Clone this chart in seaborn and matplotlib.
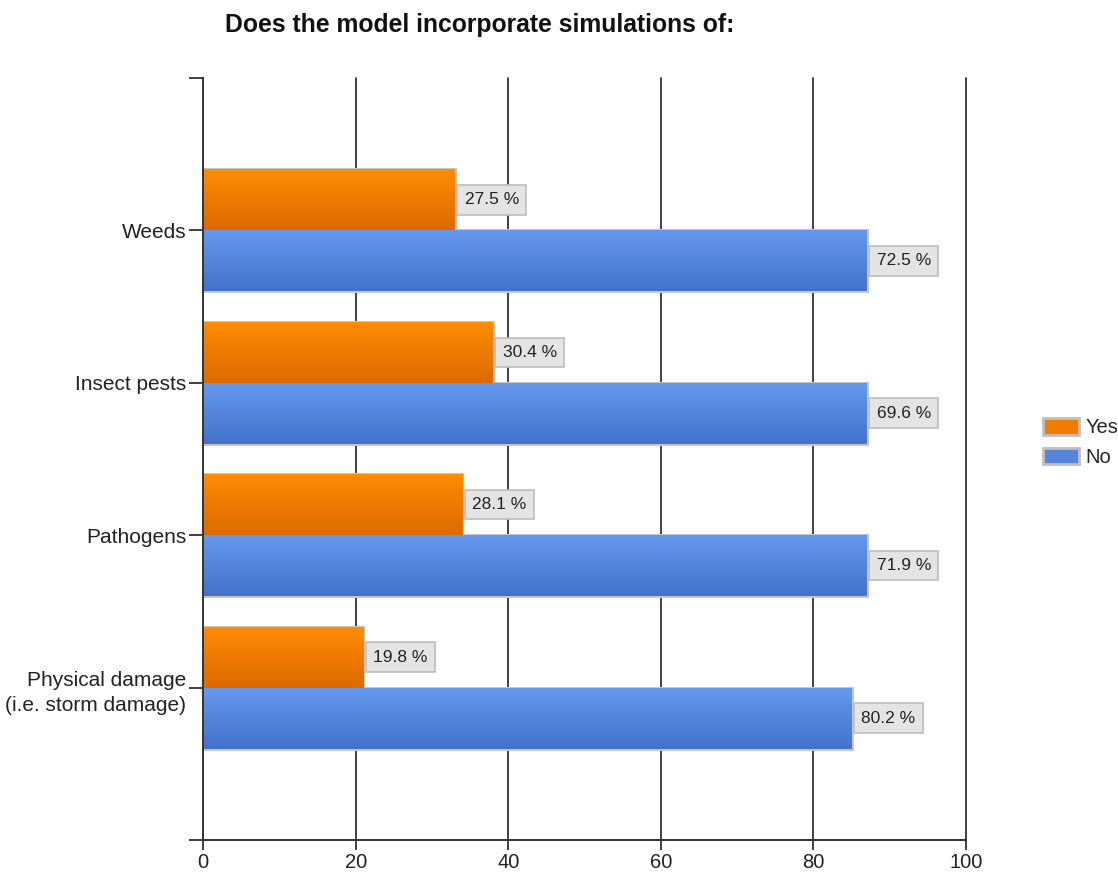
import numpy as np
import pandas as pd
import matplotlib
matplotlib.use("Agg")
import matplotlib.pyplot as plt
import matplotlib.colors as mcolors
from matplotlib.patches import Patch
import seaborn as sns

# Survey responses (counts) per hazard type
hazards = ["Weeds", "Insect pests", "Pathogens", "Physical damage\n(i.e. storm damage)"]
yes_counts = [33, 38, 34, 21]
no_counts = [87, 87, 87, 85]
responses = ["Yes", "No"]
x_ticks = [0, 20, 40, 60, 80, 100]

df = pd.DataFrame({
    "Hazard": hazards * 2,
    "Response": ["Yes"] * len(hazards) + ["No"] * len(hazards),
    "Count": yes_counts + no_counts,
})
totals = df.groupby("Hazard", sort=False)["Count"].transform("sum")
df["Pct"] = df["Count"] / totals * 100

sns.set_theme(style="white")
plt.rcParams["font.family"] = ["Liberation Sans", "DejaVu Sans"]

palette = {"Yes": "#F07D00", "No": "#5585DD"}
grad = {
    "Yes": ("#FF8C00", "#DC6A00"),
    "No": ("#6598EE", "#4472CA"),
}

fig = plt.figure(figsize=(11.18, 8.75), dpi=100)
ax = fig.add_axes([0.1816, 0.04, 0.6825, 0.8709])

ax.grid(False)
for xv in x_ticks[1:]:
    ax.axvline(xv, color="#202020", lw=1.2, zorder=0.5, clip_on=False)

sns.barplot(data=df, y="Hazard", x="Count", hue="Response", order=hazards,
            hue_order=responses, palette=palette, orient="h", width=0.8,
            dodge=True, ax=ax, legend=False, zorder=2)

# Gradient fills and value boxes
for cont, resp in zip(ax.containers, responses):
    sub = df[df["Response"] == resp].set_index("Hazard").loc[hazards]
    c_top, c_bot = (np.array(mcolors.to_rgb(c)) for c in grad[resp])
    t = np.linspace(0, 1, 64)[:, None, None]
    img = (c_top * (1 - t) + c_bot * t)
    for bar, pct in zip(cont.patches, sub["Pct"]):
        x0, y0 = bar.get_x(), bar.get_y()
        w, h = bar.get_width(), bar.get_height()
        bar.set_edgecolor("#C6C6C6")
        bar.set_linewidth(2.2)
        im = ax.imshow(img, extent=(x0, x0 + w, y0 + h, y0), origin="upper",
                       aspect="auto", zorder=2.5, interpolation="bilinear")
        im.set_clip_path(bar)
        ax.annotate(f"{pct:.1f} %", xy=(x0 + w, y0 + h / 2),
                    xytext=(7, 0), textcoords="offset points",
                    ha="left", va="center", fontsize=12.5, color="#222222",
                    zorder=4,
                    bbox=dict(boxstyle="square,pad=0.42", fc="#E4E4E4",
                              ec="#BDBDBD", lw=1.2))

ax.set_xlim(0, 100)
ax.set_ylim(len(hazards), -1)
ax.set_xticks(x_ticks)
ax.set_yticks(range(-1, len(hazards) + 1))
ax.set_yticklabels([""] + hazards + [""])
for lbl in ax.get_yticklabels():
    lbl.set_linespacing(1.45)
ax.set_xlabel("")
ax.set_ylabel("")

for side in ["top", "right"]:
    ax.spines[side].set_visible(False)
for side in ["left", "bottom"]:
    ax.spines[side].set_color("#333333")
    ax.spines[side].set_linewidth(1.4)
    ax.spines[side].set_zorder(5)

ax.tick_params(axis="x", direction="out", length=7.5, width=1.2, color="#202020",
               labelsize=14.5, pad=2, labelcolor="#222222", bottom=True)
ax.tick_params(axis="y", direction="out", length=10, width=1.2, color="#202020",
               labelsize=15, pad=2, labelcolor="#222222", left=True)

fig.text(225 / 1118, 1 - 25 / 875, "Does the model incorporate simulations of:",
         ha="left", va="center", fontsize=17.8, fontweight="bold", color="#111111")

handles = [Patch(facecolor="#F07D00", edgecolor="#C0C0C0", lw=2),
           Patch(facecolor="#5585DD", edgecolor="#C0C0C0", lw=2)]
fig.legend(handles, responses, loc="center left",
           bbox_to_anchor=(1043 / 1118, 1 - 442.5 / 875),
           bbox_transform=fig.transFigure, frameon=False, fontsize=14.5,
           handlelength=1.8, handleheight=0.85, handletextpad=0.3,
           labelspacing=0.5, borderpad=0, borderaxespad=0)

fig.savefig("out.png", dpi=100)
